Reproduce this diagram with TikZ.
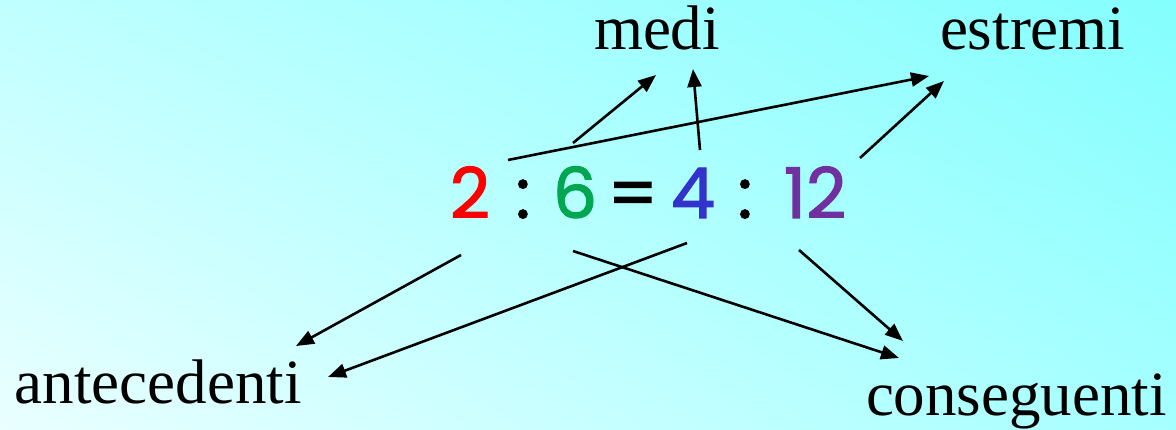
\documentclass[tikz,border=0pt]{standalone}
\usepackage{fontspec}
\setmainfont{Liberation Serif}
\newfontfamily\eqfont{Poppins}[FakeBold=1.6]
\usetikzlibrary{arrows.meta,shadings}
\definecolor{bgUL}{RGB}{192,255,255}
\definecolor{bgUR}{RGB}{132,254,254}
\definecolor{bgLL}{RGB}{234,255,255}
\definecolor{bgLR}{RGB}{166,255,255}
\definecolor{cRed}{RGB}{255,0,0}
\definecolor{cGreen}{RGB}{0,166,80}
\definecolor{cBlue}{RGB}{51,51,204}
\definecolor{cPurple}{RGB}{112,48,160}
\tikzset{
  lbl/.style={inner sep=0pt, outer sep=0pt, anchor=base west, font=\fontsize{63}{70}\selectfont},
  dig/.style={inner sep=0pt, outer sep=0pt, anchor=base, font=\eqfont\fontsize{70}{76}\selectfont},
  arr/.style={line width=2.6pt, -{Triangle[length=18pt,width=14pt]}}
}
\begin{document}
\begin{tikzpicture}[x=1pt,y=-1pt]
\begin{scope}[y=1pt]
\shade[upper left=bgUL, upper right=bgUR, lower left=bgLL, lower right=bgLR] (0,-430) rectangle (1176,0);
\end{scope}
\useasboundingbox (0,0) rectangle (1176,430);
% labels
\node[lbl] (medi) at (594,50) {medi};
\node[lbl] (estremi) at (940,50) {estremi};
\node[lbl] (ante) at (15,403) {antecedenti};
\node[lbl] (cons) at (866,416) {conseguenti};
% equation
\node[dig, text=cRed] (n2) at (470,218) {2};
\node[dig] (c1) at (523,218) {:};
\node[dig, text=cGreen] (n6) at (575,218) {6};
\node[dig] (eq) at (633,218) {=};
\node[dig, text=cBlue] (n4) at (693,218) {4};
\node[dig] (c2) at (745,218) {:};
\node[dig, text=cPurple] (n12) at (815,218) {12};
% arrow end points
\coordinate (s6u) at (573,143);
\coordinate (s4u) at (700,150);
\coordinate (s2u) at (508,160);
\coordinate (s12u) at (860,158);
\coordinate (s2d) at (461,255);
\coordinate (s4d) at (687,243);
\coordinate (s6d) at (573,251);
\coordinate (s12d) at (799,250);
\coordinate (tm1) at (656,75);
\coordinate (tm2) at (693,69);
\coordinate (te1) at (929,76);
\coordinate (te2) at (944,81);
\coordinate (ta1) at (296,346);
\coordinate (ta2) at (328,377);
\coordinate (tc1) at (899,358);
\coordinate (tc2) at (903,341);
% arrows
\draw[arr] (s6u) -- (tm1);
\draw[arr] (s4u) -- (tm2);
\draw[arr] (s2u) -- (te1);
\draw[arr] (s12u) -- (te2);
\draw[arr] (s2d) -- (ta1);
\draw[arr] (s4d) -- (ta2);
\draw[arr] (s6d) -- (tc1);
\draw[arr] (s12d) -- (tc2);
\end{tikzpicture}
\end{document}
